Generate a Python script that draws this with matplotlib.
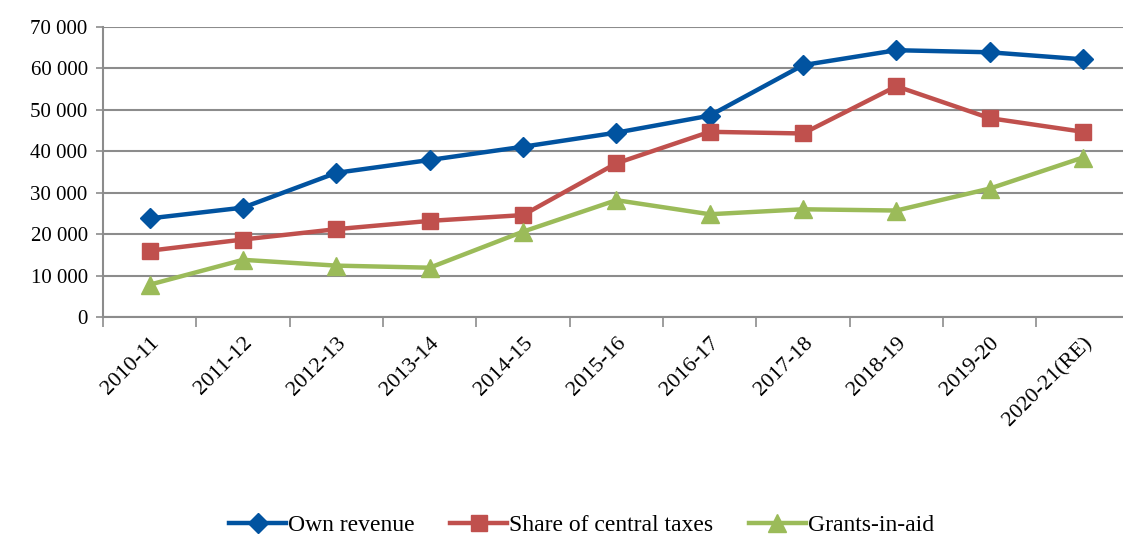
import numpy as np
import matplotlib
matplotlib.use("Agg")
import matplotlib.pyplot as plt
from matplotlib.ticker import FuncFormatter

# data
years = ["2010-11", "2011-12", "2012-13", "2013-14", "2014-15", "2015-16",
         "2016-17", "2017-18", "2018-19", "2019-20", "2020-21(RE)"]
own_revenue = [23800, 26400, 34800, 37900, 41100, 44500, 48600, 60800, 64400, 63900, 62200]
central_taxes = [16000, 18700, 21200, 23200, 24600, 37100, 44700, 44300, 55700, 48000, 44700]
grants = [7800, 13800, 12400, 11900, 20600, 28200, 24800, 26000, 25700, 31000, 38500]

plt.rcParams['font.family'] = ['Liberation Serif', 'DejaVu Serif']

fig = plt.figure(figsize=(11.23, 5.36), dpi=100)
ax = fig.add_axes([0.0917, 0.4086, 0.9143, 0.541])

x = np.arange(len(years))
ax.plot(x, own_revenue, color='#0153A0', lw=3.2, marker='D', ms=10, label='Own revenue', zorder=3)
ax.plot(x, central_taxes, color='#C0504D', lw=3.2, marker='s', ms=12, label='Share of central taxes', zorder=3)
ax.plot(x, grants, color='#9BBB59', lw=3.2, marker='^', ms=13, label='Grants-in-aid', zorder=3)

ax.set_ylim(0, 70000)
ax.set_yticks(np.arange(0, 70001, 10000))
ax.yaxis.set_major_formatter(FuncFormatter(lambda v, p: f"{int(v):,}".replace(",", " ")))
ax.grid(axis='y', color='#8C8C8C', lw=1.5)
ax.set_axisbelow(True)

ax.set_xlim(-0.5, len(years) - 0.5)
ax.set_xticks(x)
ax.set_xticklabels(years, rotation=45, ha='right', va='top', rotation_mode='anchor')
ax.set_xticks(np.arange(-0.5, len(years), 1), minor=True)
ax.tick_params(axis='x', which='major', length=0, pad=12, labelsize=16)
ax.tick_params(axis='x', which='minor', length=7, width=1.2, color='#8C8C8C')
ax.tick_params(axis='y', length=5, width=1.2, color='#8C8C8C', labelsize=15, pad=6)

for s in ['top', 'right']:
    ax.spines[s].set_visible(False)
for s in ['left', 'bottom']:
    ax.spines[s].set_color('#8C8C8C')
    ax.spines[s].set_linewidth(1.5)

fig.legend(loc='center', bbox_to_anchor=(0.518, 0.02), ncol=3, frameon=False,
           fontsize=17, handlelength=2.4, columnspacing=1.5, handletextpad=0.1)

fig.savefig("out.png", dpi=100)
